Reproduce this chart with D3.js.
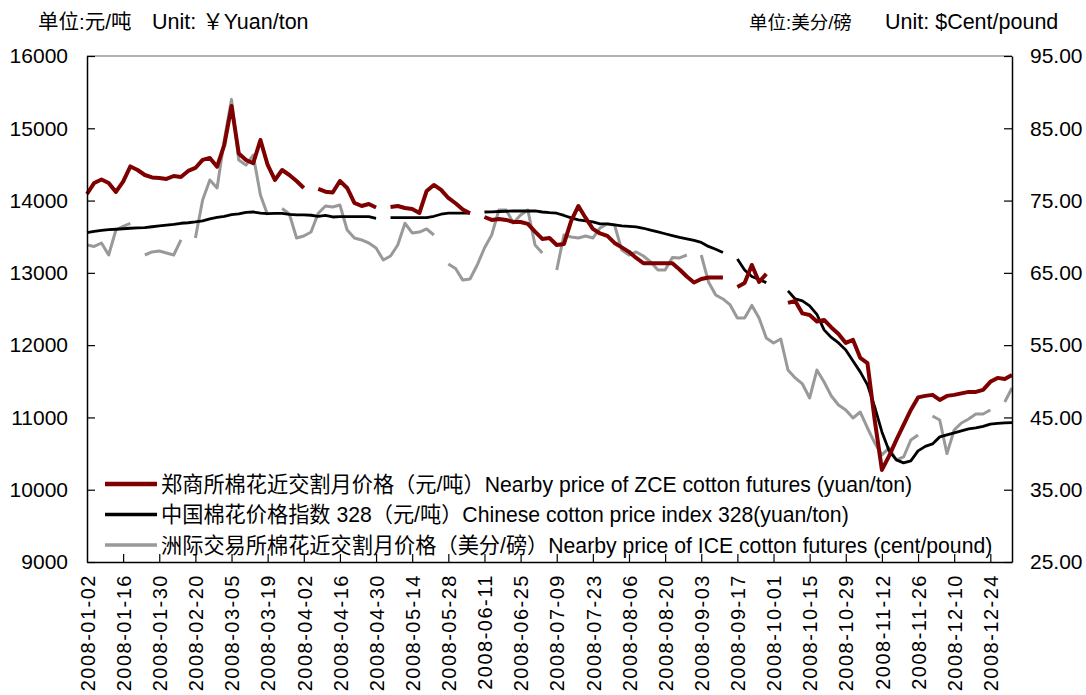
<!DOCTYPE html>
<html>
<head>
<meta charset="utf-8">
<script src="https://cdn.jsdelivr.net/npm/d3@7"></script>
<style>
  html, body { margin: 0; padding: 0; background: #fff; }
  svg { display: block; }
  text { font-family: "Liberation Sans", Arial, "Noto Sans CJK SC", sans-serif; fill: #000; }
</style>
</head>
<body>
<svg id="chart" width="1086" height="695"></svg>
<script>
// ---- data (one value per 2 trading days; null = market closed) ----
const tickLabels = ["2008-01-02","2008-01-16","2008-01-30","2008-02-20","2008-03-05","2008-03-19","2008-04-02","2008-04-16","2008-04-30","2008-05-14","2008-05-28","2008-06-11","2008-06-25","2008-07-09","2008-07-23","2008-08-06","2008-08-20","2008-09-03","2008-09-17","2008-10-01","2008-10-15","2008-10-29","2008-11-12","2008-11-26","2008-12-10","2008-12-24"];

const seriesNames = [
  "郑商所棉花近交割月价格（元/吨）Nearby price of ZCE cotton futures (yuan/ton)",
  "中国棉花价格指数 328（元/吨）Chinese cotton price index 328(yuan/ton)",
  "洲际交易所棉花近交割月价格（美分/磅）Nearby price of ICE cotton futures (cent/pound)"
];

// ZCE nearby futures, yuan/ton (left axis)
const zce = [
14091,14244,14292,14244,14119,14262,14472,14423,14354,14320,
14313,14299,14340,14327,14410,14451,14562,14590,14469,14769,
15308,14652,14562,14516,14838,14493,14285,14423,14354,14271,
14174,null,14161,14123,14112,14271,14174,13967,13925,13953,
13905,null,13912,13925,13898,13884,13829,14133,14216,14147,
14036,13963,13877,13825,null,13773,13732,13746,13732,13704,
13704,13677,13570,13469,13483,13386,13400,13718,13925,13760,
13608,13545,13511,13414,13352,13290,13206,13133,13133,13133,
13133,13133,13047,12950,12867,12916,12936,12936,12936,null,
12805,12860,13109,12874,12985,null,null,12584,12612,12439,
12418,12328,12349,12245,12155,12031,12072,11824,11750,10966,
10274,10468,10689,10897,11104,11277,11298,11312,11242,11298,
11312,11333,11353,11353,11381,11492,11547,11533,11588
];

// China Cotton Index 328, yuan/ton (left axis)
const cci = [
13556,13573,13587,13598,13603,13610,13617,13621,13625,13638,
13649,13659,13670,13686,13693,13704,13718,13746,13766,13780,
13805,13815,13836,13842,13825,13819,13822,13822,13808,13801,
13801,13797,13780,13794,13773,13778,13778,13778,13778,13778,
13755,null,13765,13765,13765,13765,13765,13765,13783,13811,
13825,13825,13825,13825,null,13842,13845,13849,13852,13856,
13856,13856,13856,13842,13832,13825,13794,13760,13732,13718,
13704,13677,13677,13663,13649,13642,13635,13617,13590,13566,
13541,13516,13490,13469,13448,13421,13366,13327,13282,null,
13192,13040,12950,12909,12865,null,null,12750,12639,12612,
12543,12425,12211,12107,12031,11934,11782,11630,11450,11146,
10800,10537,10413,10371,10399,10537,10599,10634,10731,10758,
10786,10814,10841,10855,10876,10908,10917,10924,10929
];

// ICE nearby futures, cents/pound (right axis)
const ice = [
68.86,68.65,69.13,67.47,70.93,71.42,71.83,null,67.47,67.89,
68.03,67.75,67.47,69.55,null,69.82,75.08,77.85,76.74,83.38,
89.00,80.61,79.92,81.30,75.77,73.00,null,73.90,73.14,69.82,
70.10,70.65,73.24,74.25,74.11,74.39,70.93,69.82,69.55,69.13,
68.44,66.78,67.33,68.86,71.86,70.52,70.65,71.07,70.24,null,
66.23,65.60,64.00,64.15,66.09,68.44,70.24,73.70,73.70,71.90,
73.00,73.70,68.86,67.75,null,65.40,70.24,69.96,69.82,70.10,
69.82,71.21,71.76,71.62,68.16,67.47,67.89,67.33,66.50,65.40,
65.40,67.13,67.06,67.47,null,67.47,63.74,61.94,61.39,60.56,
58.76,58.76,60.50,58.76,56.00,55.30,55.85,51.56,50.46,49.63,
47.69,51.56,49.90,47.97,46.72,46.03,44.92,45.75,43.54,41.47,
39.81,40.78,39.11,39.53,41.88,42.57,null,45.20,44.65,40.00,
43.26,44.23,44.79,45.48,45.48,46.03,null,47.14,49.07
];

const leftTicks = [9000,10000,11000,12000,13000,14000,15000,16000];
const rightTicks = [25,35,45,55,65,75,85,95];

// ---- layout ----
const svg = d3.select("#chart");
const L = 87, R = 1012, T = 56, B = 562;
const nSteps = zce.length - 1;

const x = d3.scaleLinear().domain([0, nSteps]).range([L, R]);
const yL = d3.scaleLinear().domain([9000, 16000]).range([B, T]);
const yR = d3.scaleLinear().domain([25, 95]).range([B, T]);

svg.append("rect").attr("width", 1086).attr("height", 695).attr("fill", "#fff");

// top border
svg.append("line").attr("x1", L).attr("x2", R).attr("y1", T).attr("y2", T)
  .attr("stroke", "#9a9a9a").attr("stroke-width", 1.5);

// series
const colors = ["#7f0000", "#000000", "#999999"];
const widths = [4, 2.8, 3];
const lineL = d3.line().defined(d => d != null).x((d, i) => x(i)).y(d => yL(d));
const lineR = d3.line().defined(d => d != null).x((d, i) => x(i)).y(d => yR(d));

svg.append("path").datum(ice).attr("d", lineR).attr("fill", "none")
  .attr("stroke", colors[2]).attr("stroke-width", widths[2]).attr("stroke-linejoin", "round");
svg.append("path").datum(cci).attr("d", lineL).attr("fill", "none")
  .attr("stroke", colors[1]).attr("stroke-width", widths[1]).attr("stroke-linejoin", "round");
svg.append("path").datum(zce).attr("d", lineL).attr("fill", "none")
  .attr("stroke", colors[0]).attr("stroke-width", widths[0]).attr("stroke-linejoin", "round");

// axes
const axL = d3.axisLeft(yL).tickValues(leftTicks).tickSize(-8).tickSizeOuter(0).tickPadding(19)
  .tickFormat(d3.format("d"));
const axR = d3.axisRight(yR).tickValues(rightTicks).tickSize(-8).tickSizeOuter(0).tickPadding(18)
  .tickFormat(d3.format(".2f"));
const axB = d3.axisBottom(x).tickValues(d3.range(0, tickLabels.length).map(i => i * 5))
  .tickSize(-8).tickSizeOuter(0).tickFormat((d, i) => tickLabels[i]);

function styleAxis(g) {
  g.select(".domain").attr("stroke", "#000").attr("stroke-width", 1.5);
  g.selectAll(".tick line").attr("stroke", "#000").attr("stroke-width", 1.2);
  g.selectAll("text").attr("font-size", 21).attr("font-family", "'Liberation Sans', Arial, sans-serif");
}

svg.append("g").attr("transform", `translate(${L},0)`).call(axL).call(styleAxis);
svg.append("g").attr("transform", `translate(${R},0)`).call(axR).call(styleAxis);
const gB = svg.append("g").attr("transform", `translate(0,${B})`).call(axB).call(styleAxis);
gB.selectAll(".tick line").filter(d => d === 0).remove();
gB.selectAll("text")
  .attr("font-size", 20)
  .attr("letter-spacing", "1.5px")
  .attr("transform", "rotate(-90)")
  .attr("text-anchor", "end")
  .attr("x", -12).attr("y", 0).attr("dy", "0.36em");

// unit labels
svg.append("text").attr("x", 38).attr("y", 29).attr("font-size", 20.5).text("单位:元/吨");
svg.append("text").attr("x", 152).attr("y", 29).attr("font-size", 21.5).text("Unit: ￥Yuan/ton");
svg.append("text").attr("x", 749).attr("y", 29).attr("font-size", 18.5).text("单位:美分/磅");
svg.append("text").attr("x", 885).attr("y", 29).attr("font-size", 21.5).text("Unit: $Cent/pound");

// legend
const lg = svg.append("g");
seriesNames.forEach((name, k) => {
  const yy = 484 + k * 30.5;
  lg.append("line").attr("x1", 105).attr("x2", 157).attr("y1", yy).attr("y2", yy)
    .attr("stroke", colors[k]).attr("stroke-width", k === 0 ? 4.5 : 3.5);
  lg.append("text").attr("x", 161).attr("y", yy).attr("dy", "0.36em")
    .attr("font-size", 21.2).text(name);
});
</script>
</body>
</html>
